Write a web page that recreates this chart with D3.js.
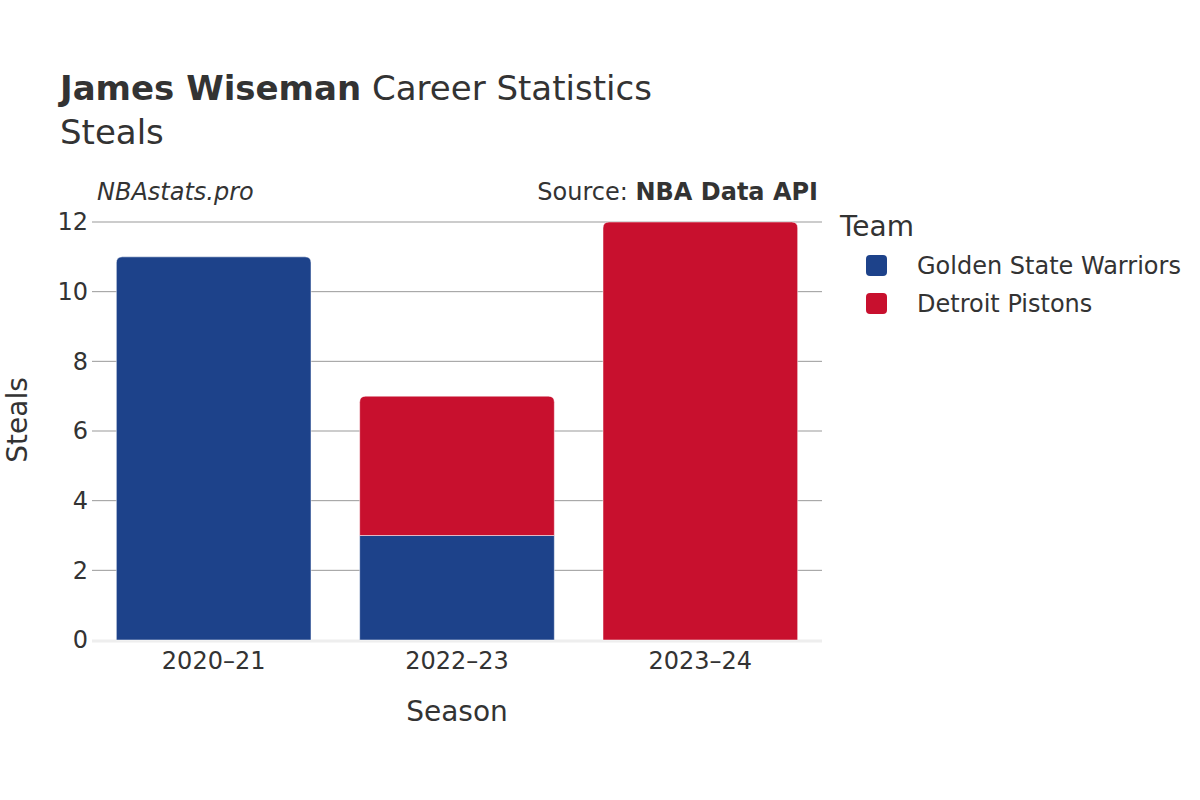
<!DOCTYPE html>
<meta charset="utf-8">
<style>
body { margin: 0; background: #fff; }
text { font-family: "DejaVu Sans", sans-serif; fill: #333; }
.grid line { stroke: #999; stroke-width: 1px; }
.tick text { font-size: 24px; }
</style>
<body>
<script src="https://cdn.jsdelivr.net/npm/d3@7"></script>
<script>
var seasons = ["2020\u201321", "2022\u201323", "2023\u201324"];
var teams = ["Golden State Warriors", "Detroit Pistons"];
var colors = ["#1d428a", "#c8102e"];
var warriors = [11, 3, 0];
var pistons = [0, 4, 12];
var yTicks = [0, 2, 4, 6, 8, 10, 12];

var width = 1200, height = 800;
var margin = {left: 92, right: 378, top: 222, bottom: 160};

var svg = d3.select("body").append("svg")
    .attr("width", width)
    .attr("height", height);

var x = d3.scaleBand()
    .domain(seasons)
    .range([margin.left, width - margin.right])
    .paddingInner(0.2)
    .paddingOuter(0.1);

var y = d3.scaleLinear()
    .domain([0, 12])
    .range([height - margin.bottom, margin.top]);

// grid
svg.append("g").attr("class", "grid")
  .selectAll("line")
  .data(yTicks.filter(function(d) { return d > 0; }))
  .enter().append("line")
    .attr("x1", margin.left)
    .attr("x2", width - margin.right)
    .attr("y1", function(d) { return y(d); })
    .attr("y2", function(d) { return y(d); });

// zero line
svg.append("line")
    .attr("x1", margin.left)
    .attr("x2", width - margin.right)
    .attr("y1", y(0) + 1)
    .attr("y2", y(0) + 1)
    .attr("stroke", "#eee")
    .attr("stroke-width", 3);

// stacked bars
var rows = seasons.map(function(s, i) { return {season: s, w: warriors[i], p: pistons[i]}; });
var stack = d3.stack().keys(["w", "p"])(rows);

function barPath(x0, w, yTop, yBot, r) {
  if (!r) return "M" + x0 + "," + yBot + "V" + yTop + "H" + (x0 + w) + "V" + yBot + "Z";
  return "M" + x0 + "," + yBot +
    "V" + (yTop + r) +
    "Q" + x0 + "," + yTop + " " + (x0 + r) + "," + yTop +
    "H" + (x0 + w - r) +
    "Q" + (x0 + w) + "," + yTop + " " + (x0 + w) + "," + (yTop + r) +
    "V" + yBot + "Z";
}

stack.forEach(function(layer, li) {
  svg.append("g")
    .selectAll("path")
    .data(layer.filter(function(d) { return d[1] > d[0]; }))
    .enter().append("path")
      .attr("fill", colors[li])
      .attr("stroke", "#fff")
      .attr("stroke-width", 0.5)
      .attr("d", function(d) {
        var isTop = d[1] === d.data.w + d.data.p;
        return barPath(x(d.data.season), x.bandwidth(), y(d[1]), y(d[0]), isTop ? 6 : 0);
      });
});

// y axis
var yAxis = svg.append("g")
    .attr("transform", "translate(" + (margin.left - 4) + ",0)")
    .call(d3.axisLeft(y).tickValues(yTicks).tickSize(0).tickPadding(0));
yAxis.select(".domain").remove();

// x axis
var xAxis = svg.append("g")
    .attr("transform", "translate(0," + (y(0) + 6) + ")")
    .call(d3.axisBottom(x).tickSize(0).tickPadding(0));
xAxis.select(".domain").remove();
xAxis.selectAll("text").attr("dy", "0.95em");

// titles
var title = svg.append("text").attr("x", 60).attr("y", 100).style("font-size", "34px");
title.append("tspan").style("font-weight", "bold").text("James Wiseman");
title.append("tspan").text(" Career Statistics");
svg.append("text").attr("x", 60).attr("y", 144).style("font-size", "34px").text("Steals");

svg.append("text").attr("x", 97).attr("y", 200)
    .style("font-size", "24px").style("font-style", "italic").text("NBAstats.pro");
var src = svg.append("text").attr("x", 818).attr("y", 200)
    .attr("text-anchor", "end").style("font-size", "24px");
src.append("tspan").text("Source: ");
src.append("tspan").style("font-weight", "bold").text("NBA Data API");

svg.append("text")
    .attr("x", (margin.left + width - margin.right) / 2)
    .attr("y", 721)
    .attr("text-anchor", "middle")
    .style("font-size", "28px")
    .text("Season");

svg.append("text")
    .attr("transform", "translate(27,420)rotate(-90)")
    .attr("text-anchor", "middle")
    .style("font-size", "28px")
    .text("Steals");

// legend
svg.append("text").attr("x", 840).attr("y", 236).style("font-size", "28px").text("Team");
var leg = svg.append("g").selectAll("g")
    .data(teams)
  .enter().append("g")
    .attr("transform", function(d, i) { return "translate(866," + (255 + i * 38) + ")"; });
leg.append("rect")
    .attr("width", 21).attr("height", 21).attr("rx", 4)
    .attr("fill", function(d, i) { return colors[i]; });
leg.append("text")
    .attr("x", 51).attr("y", 19)
    .style("font-size", "24px")
    .text(function(d) { return d; });
</script>
</body>
